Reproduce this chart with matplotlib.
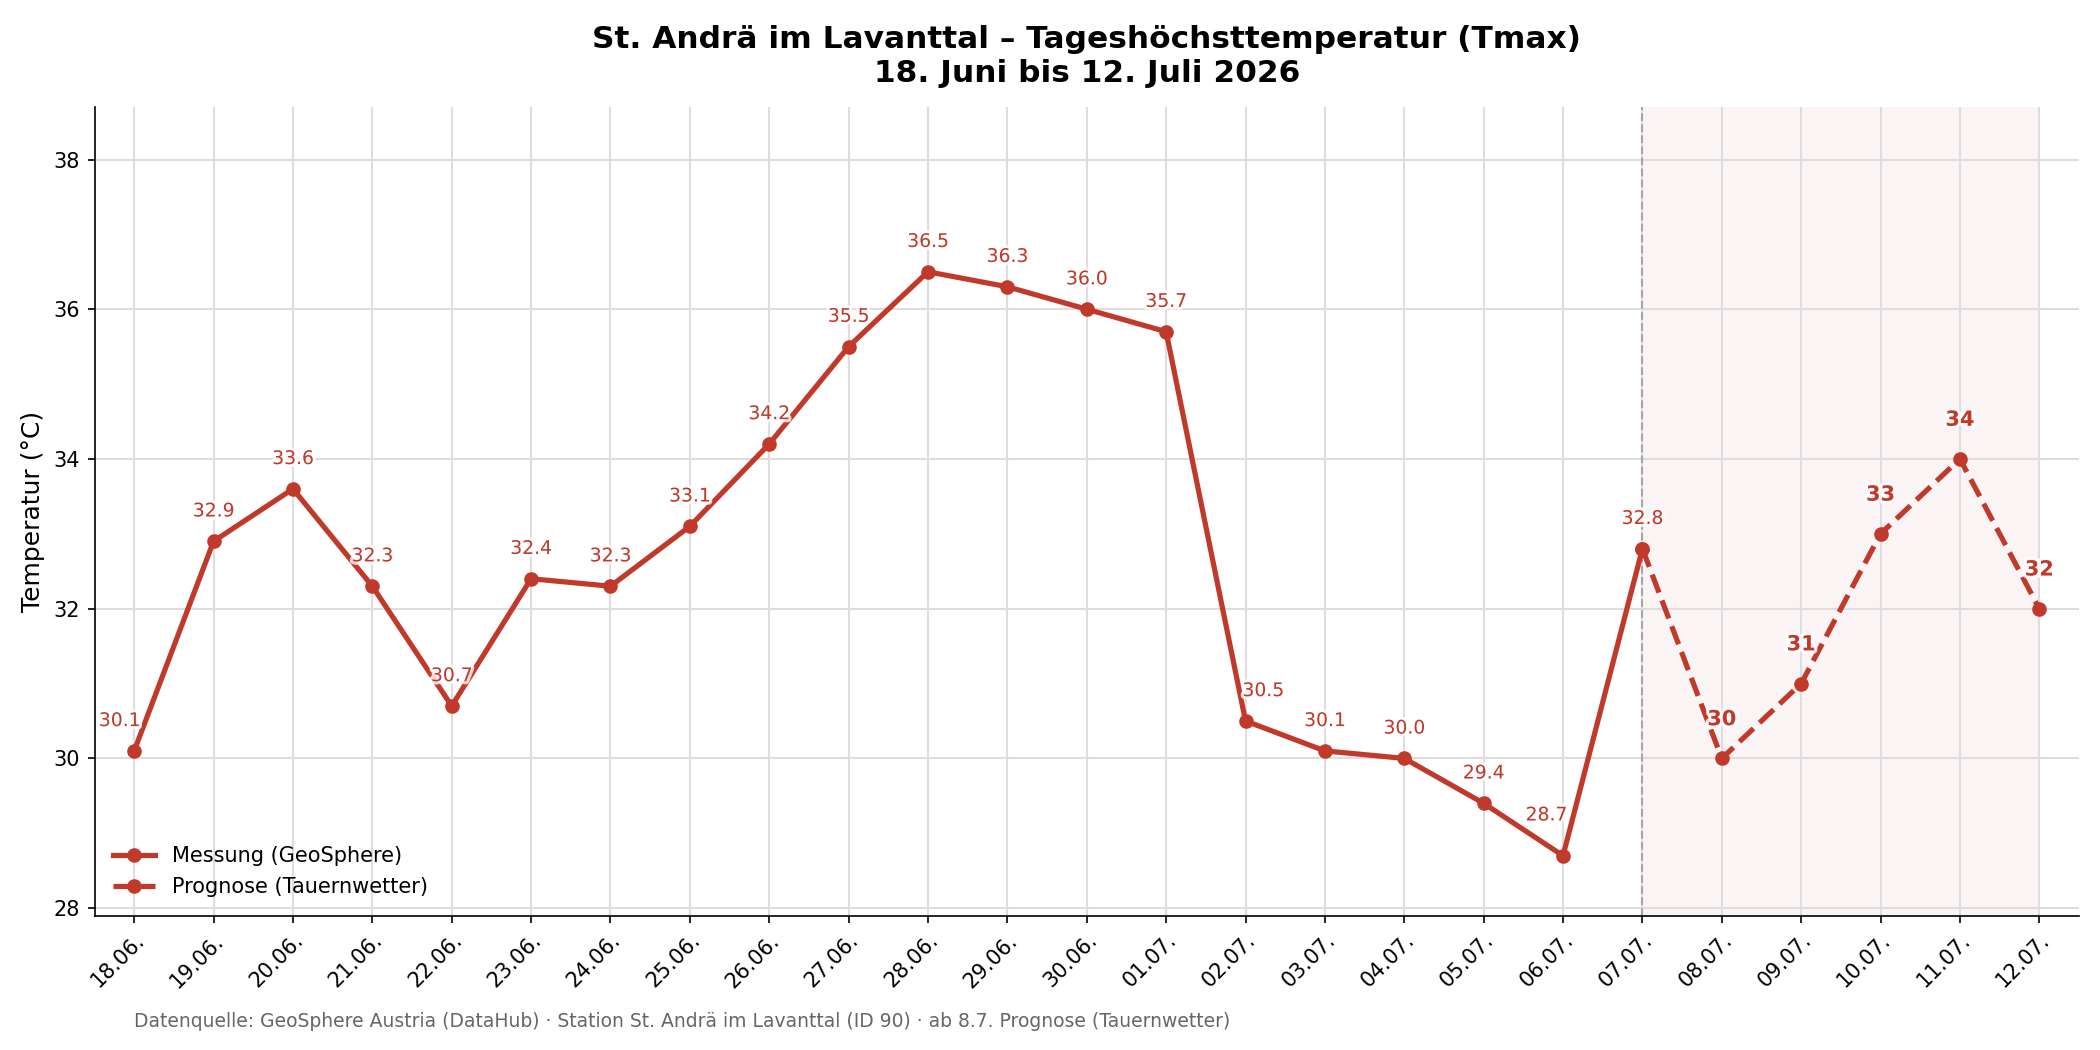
import matplotlib
matplotlib.use("Agg")
import matplotlib.pyplot as plt
import matplotlib.patheffects as pe
import numpy as np

dates = ['18.06.', '19.06.', '20.06.', '21.06.', '22.06.', '23.06.', '24.06.',
         '25.06.', '26.06.', '27.06.', '28.06.', '29.06.', '30.06.', '01.07.',
         '02.07.', '03.07.', '04.07.', '05.07.', '06.07.', '07.07.', '08.07.',
         '09.07.', '10.07.', '11.07.', '12.07.']
messung = [30.1, 32.9, 33.6, 32.3, 30.7, 32.4, 32.3, 33.1, 34.2, 35.5,
           36.5, 36.3, 36.0, 35.7, 30.5, 30.1, 30.0, 29.4, 28.7, 32.8]
prognose = [32.8, 30, 31, 33, 34, 32]

red = '#c0392b'
x = np.arange(len(dates))
x_mess = x[:len(messung)]
x_prog = x[len(messung) - 1:]

fig, ax = plt.subplots(figsize=(14, 7), dpi=150)

ax.axvspan(x_prog[0], x_prog[-1], color=red, alpha=0.05, lw=0, zorder=0)
ax.axvline(x_prog[0], color='gray', ls='--', lw=1, alpha=0.6, zorder=1)

ax.plot(x_mess, messung, '-o', color=red, lw=2.5, ms=6, label='Messung (GeoSphere)', zorder=3)
ax.plot(x_prog, prognose, '--o', color=red, lw=2.5, ms=6, label='Prognose (Tauernwetter)', zorder=3)

halo = [pe.withStroke(linewidth=3, foreground='white', alpha=0.8)]

# label offsets (points); a few shifted so they don't sit on the line
shift = {0: (-7, 10), 14: (8.5, 10), 18: (-8, 15)}
for i, v in enumerate(messung):
    dx, dy = shift.get(i, (0, 10))
    ax.annotate(f'{v:.1f}', (x_mess[i], v), xytext=(dx, dy), textcoords='offset points',
                ha='center', va='bottom', fontsize=9, color=red, zorder=4, path_effects=halo)
for xi, v in zip(x_prog[1:], prognose[1:]):
    ax.annotate(f'{v:.0f}', (xi, v), xytext=(0, 14), textcoords='offset points',
                ha='center', va='bottom', fontsize=10, fontweight='bold', color=red, zorder=4,
                path_effects=halo)

ax.set_xlim(-0.5, len(dates) - 0.5)
ax.set_ylim(min(messung) - 0.8, max(messung) + 2.2)
ax.set_xticks(x)
ax.set_xticklabels(dates, rotation=45, ha='right', rotation_mode='anchor', fontsize=10)
ax.tick_params(axis='y', labelsize=10)
ax.set_ylabel('Temperatur (°C)', fontsize=12)
ax.set_title('St. Andrä im Lavanttal – Tageshöchsttemperatur (Tmax)\n18. Juni bis 12. Juli 2026',
             fontsize=15, fontweight='bold', pad=12)
ax.grid(True, color='#dddddd', lw=1)
ax.set_axisbelow(True)
for s in ['top', 'right']:
    ax.spines[s].set_visible(False)
ax.legend(loc='lower left', frameon=False, fontsize=10)

fig.text(0.064, 0.022, 'Datenquelle: GeoSphere Austria (DataHub) · Station St. Andrä im Lavanttal (ID 90) · ab 8.7. Prognose (Tauernwetter)',
         fontsize=9, color='#666666')

fig.subplots_adjust(left=0.045, right=0.99, top=0.898, bottom=0.128)
fig.savefig('out.png', dpi=150)
